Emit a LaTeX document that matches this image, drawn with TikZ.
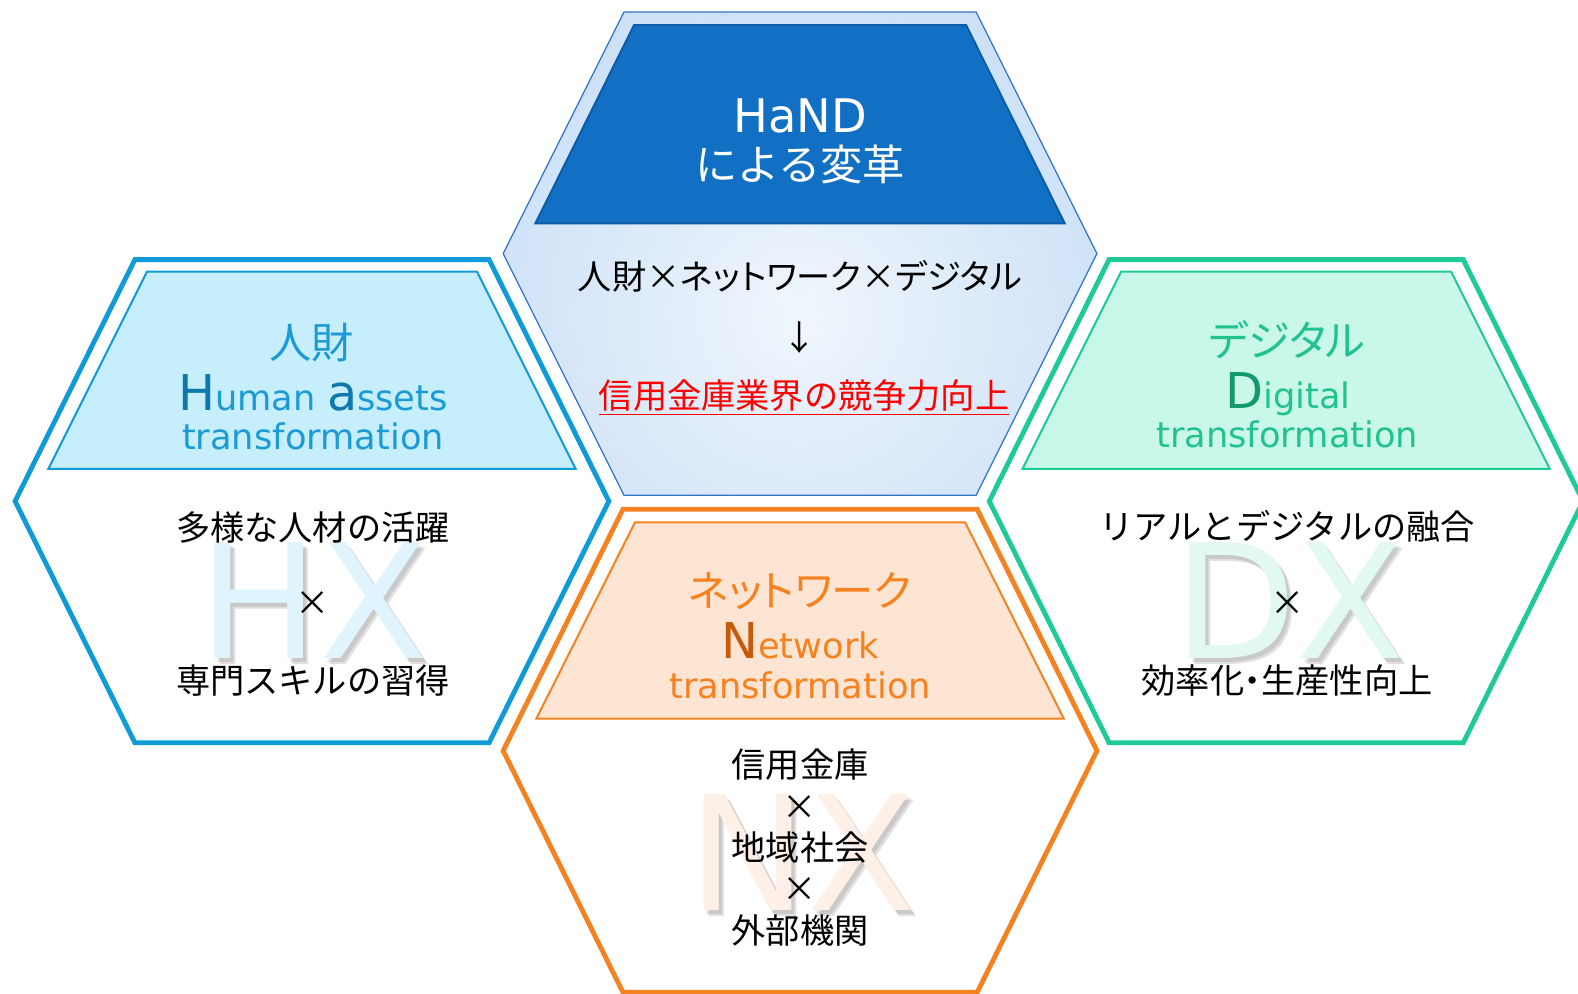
\documentclass[tikz,border=0pt]{standalone}
\usepackage{fontspec}
\setmainfont{DejaVu Sans}
\newfontfamily\jpfont{Noto Sans CJK JP}
\newfontfamily\jpprop[RawFeature=+palt]{Noto Sans CJK JP}
\usepackage{tikz}
\usetikzlibrary{positioning}
\usepackage{xcolor}
\definecolor{handdark}{HTML}{1170C4}
\definecolor{handline}{HTML}{0D5DA6}
\definecolor{handlight}{HTML}{CDE1F7}
\definecolor{handedge}{HTML}{2F74C4}
\definecolor{hxline}{HTML}{0E9BD8}
\definecolor{hxfill}{HTML}{C6EEFC}
\definecolor{hxtext}{HTML}{1B9AD6}
\definecolor{hxdeep}{HTML}{0F79AD}
\definecolor{hxmark}{HTML}{E0F4FD}
\definecolor{dxline}{HTML}{1ECB98}
\definecolor{dxfill}{HTML}{C9F8E9}
\definecolor{dxtext}{HTML}{22C190}
\definecolor{dxdeep}{HTML}{13996E}
\definecolor{dxmark}{HTML}{E2F8F2}
\definecolor{nxline}{HTML}{F58220}
\definecolor{nxfill}{HTML}{FDE4D3}
\definecolor{nxtext}{HTML}{F5821F}
\definecolor{nxdeep}{HTML}{C65A0A}
\definecolor{nxmark}{HTML}{FEF0E6}
\pgfkeys{tikz/hexframe/.style={line width=2.4pt,line join=miter}}
\pgfkeys{tikz/headbox/.style={line width=1pt,line join=miter}}
\pgfkeys{tikz/bigmark/.style={font=\fontsize{79}{79}\selectfont,inner sep=0pt}}

\begin{document}
\begin{tikzpicture}[x=0.5pt,y=-0.5pt,
  every node/.style = {inner sep=0pt, align=center},
  jptitle/.style = {font=\jpfont\fontsize{21}{21}\selectfont},
  kanatitle/.style = {font=\jpprop\fontsize{21}{21}\selectfont},
  entitle/.style = {font=\fontsize{17.5}{17.5}\selectfont},
  jpbody/.style = {font=\jpfont\fontsize{17}{17}\selectfont, text=black}
  ]
  \useasboundingbox (0,0) rectangle (1568,987);

  % HaND
  \begin{scope}[shift={(795,252)}]
    \fill[handlight] (-175,-240) -- (175,-240) -- (295,0) -- (175,240) -- (-175,240) -- (-295,0) -- cycle;
    \begin{scope}
      \clip (-175,-240) -- (175,-240) -- (295,0) -- (175,240) -- (-175,240) -- (-295,0) -- cycle;
      \shade[inner color=white!70!handlight, outer color=handlight] (0,60) circle (320);
    \end{scope}
    \draw[handedge, line width=0.6pt] (-175,-240) -- (175,-240) -- (295,0) -- (175,240) -- (-175,240) -- (-295,0) -- cycle;
    \filldraw[fill=handdark, draw=handline, headbox] (-165,-227) -- (165,-227) -- (263,-30) -- (-263,-30) -- cycle;
  \end{scope}

  % HX
  \begin{scope}[shift={(310,498)}]
    \draw[hxline, hexframe, fill=white] (-176,-240) -- (176,-240) -- (295,0) -- (176,240) -- (-176,240) -- (-295,0) -- cycle;
    \filldraw[fill=hxfill, draw=hxline, headbox] (-164,-228) -- (164,-228) -- (262,-32) -- (-262,-32) -- cycle;
  \end{scope}

  % DX
  \begin{scope}[shift={(1278,498)}]
    \draw[dxline, hexframe, fill=white] (-176,-240) -- (176,-240) -- (295,0) -- (176,240) -- (-176,240) -- (-295,0) -- cycle;
    \filldraw[fill=dxfill, draw=dxline, headbox] (-164,-228) -- (164,-228) -- (262,-32) -- (-262,-32) -- cycle;
  \end{scope}

  % NX
  \begin{scope}[shift={(795,746)}]
    \draw[nxline, hexframe, fill=white] (-176,-240) -- (176,-240) -- (295,0) -- (176,240) -- (-176,240) -- (-295,0) -- cycle;
    \filldraw[fill=nxfill, draw=nxline, headbox] (-164,-227) -- (164,-227) -- (262,-32) -- (-262,-32) -- cycle;
  \end{scope}

  % watermarks with soft shadow
  \node[bigmark, text=black, opacity=0.12] at (317,603) {HX};
  \node[bigmark, text=black, opacity=0.10] at (315,601) {HX};
  \node[bigmark, text=hxmark] (hxmark) at (312,597) {HX};
  \node[bigmark, text=black, opacity=0.12] at (1287,603) {DX};
  \node[bigmark, text=black, opacity=0.10] at (1285,601) {DX};
  \node[bigmark, text=dxmark] (dxmark) at (1282,597) {DX};
  \node[bigmark, text=black, opacity=0.12] at (802,853) {NX};
  \node[bigmark, text=black, opacity=0.10] at (800,851) {NX};
  \node[bigmark, text=nxmark] (nxmark) at (797,847) {NX};

  % HaND texts
  \node[text=white, font=\fontsize{23}{23}\selectfont] (hand) at (795,115) {HaND};
  \node[jptitle, text=white] (henkaku) at (795,163) {による変革};
  \node[jpbody, font=\jpprop\fontsize{17}{17}\selectfont] (kakeru) at (795,275) {人財×ネットワーク×デジタル};
  \node[jpbody] (arrow) at (795,335) {↓};
  \node[jpbody, text=red] (kyoso) at (799,395) {\underline{信用金庫業界の競争力向上}};

  % HX texts
  \node[jptitle, text=hxtext] (jinzai) at (310,340) {人財};
  \node[entitle, text=hxtext, anchor=base] (human) at (311,408) {{\color{hxdeep}\fontsize{24.5}{24.5}\selectfont H}uman {\color{hxdeep}\fontsize{24.5}{24.5}\selectfont a}ssets};
  \node[entitle, text=hxtext] (hxtrans) at (311,434) {transformation};
  \node[jpbody] (tayo) at (311,524) {多様な人材の活躍};
  \node[jpbody] (hxtimes) at (311,600) {×};
  \node[jpbody] (senmon) at (311,676) {専門スキルの習得};

  % DX texts
  \node[kanatitle, text=dxtext] (digi) at (1279,338) {デジタル};
  \node[entitle, text=dxtext, anchor=base] (digital) at (1280,406) {{\color{dxdeep}\fontsize{24.5}{24.5}\selectfont D}igital};
  \node[entitle, text=dxtext] (dxtrans) at (1279,432) {transformation};
  \node[jpbody] (real) at (1279,523) {リアルとデジタルの融合};
  \node[jpbody] (dxtimes) at (1279,600) {×};
  \node[jpbody] (koritsu) at (1279,676) {効率化{\jpprop ・}生産性向上};

  % NX texts
  \node[kanatitle, text=nxtext] (network) at (795,587) {ネットワーク};
  \node[entitle, text=nxtext, anchor=base] (networken) at (795,654) {{\color{nxdeep}\fontsize{24.5}{24.5}\selectfont N}etwork};
  \node[entitle, text=nxtext] (nxtrans) at (795,681) {transformation};
  \node[jpbody] (shinkin) at (795,760) {信用金庫};
  \node[jpbody] (nxtimesa) at (795,802) {×};
  \node[jpbody] (chiiki) at (795,842) {地域社会};
  \node[jpbody] (nxtimesb) at (795,884) {×};
  \node[jpbody] (gaibu) at (795,925) {外部機関};
\end{tikzpicture}
\end{document}
